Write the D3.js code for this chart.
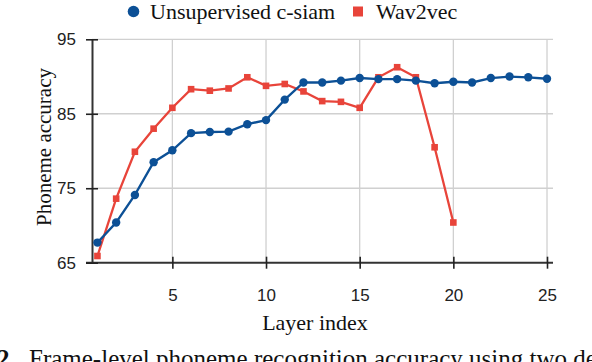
<!DOCTYPE html>
<html>
<head>
<meta charset="utf-8">
<script src="https://cdn.jsdelivr.net/npm/d3@7"></script>
<style>
  body { margin: 0; background: #fff; overflow: hidden; }
  svg { display: block; }
</style>
</head>
<body>
<svg id="chart" width="592" height="362"></svg>
<script>
// layer indices and accuracies
const layersCsiam = d3.range(1, 26);
const accCsiam = [67.7, 70.4, 74.1, 78.5, 80.1, 82.4, 82.55, 82.6, 83.6, 84.15,
                  86.9, 89.2, 89.2, 89.45, 89.8, 89.65, 89.65, 89.45, 89.1, 89.3,
                  89.2, 89.8, 90.0, 89.9, 89.7];
const layersW2v = d3.range(1, 21);
const accW2v = [65.9, 73.6, 79.9, 83.0, 85.8, 88.3, 88.1, 88.4, 89.9, 88.75,
                89.0, 88.0, 86.7, 86.6, 85.8, 89.9, 91.25, 89.9, 80.5, 70.4];
const xTicks = [5, 10, 15, 20, 25];
const yTicks = [65, 75, 85, 95];
const seriesNames = ["Unsupervised c-siam", "Wav2vec"];

const blue = "#0c5096", red = "#e8443a";
const serif = "'Liberation Serif', 'Times New Roman', serif";
const sans = "'Liberation Sans', Arial, sans-serif";

const svg = d3.select("#chart");
const plotL = 92, plotR = 553, plotT = 39.3, plotB = 262.7;

const x = d3.scaleLinear().domain([0.71, 25.32]).range([plotL, plotR]);
const y = d3.scaleLinear().domain([65, 95]).range([plotB, plotT]);

// grid lines
const grid = svg.append("g");
grid.selectAll("line.v").data(xTicks).enter().append("line")
    .attr("x1", d => x(d)).attr("x2", d => x(d))
    .attr("y1", plotT).attr("y2", plotB)
    .style("stroke", "#d0d0d0").style("stroke-width", 1.3);
grid.selectAll("line.h").data(yTicks.filter(d => d > 65)).enter().append("line")
    .attr("x1", plotL).attr("x2", plotR)
    .attr("y1", d => y(d)).attr("y2", d => y(d))
    .style("stroke", "#d0d0d0").style("stroke-width", 1.3);

// axes
const xAxis = svg.append("g")
    .attr("transform", `translate(0,${plotB})`)
    .call(d3.axisBottom(x).tickValues(xTicks).tickSizeInner(6).tickSizeOuter(0).tickPadding(20));
xAxis.select(".domain").attr("d", `M${plotL - 6},0H${plotR}`);
xAxis.selectAll(".tick line").attr("y1", -6).attr("y2", 6);

const yAxis = svg.append("g")
    .attr("transform", `translate(${plotL},0)`)
    .call(d3.axisLeft(y).tickValues(yTicks).tickSizeInner(6).tickSizeOuter(0).tickPadding(10));
yAxis.selectAll(".tick line").attr("x1", -6).attr("x2", 6);

[xAxis, yAxis].forEach(a => {
  a.select(".domain").style("stroke", "#333").style("stroke-width", 2);
  a.selectAll(".tick line").style("stroke", "#222").style("stroke-width", 1.6);
  a.selectAll(".tick text").style("font-family", sans).style("font-size", "17px").style("fill", "#222");
});

// lines
const lineGen = d3.line().x(d => x(d[0])).y(d => y(d[1]));
const csiam = layersCsiam.map((l, i) => [l, accCsiam[i]]);
const w2v = layersW2v.map((l, i) => [l, accW2v[i]]);

svg.append("path").datum(w2v).attr("d", lineGen)
    .style("fill", "none").style("stroke", red).style("stroke-width", 2.3);
svg.append("g").selectAll("rect").data(w2v).enter().append("rect")
    .attr("x", d => x(d[0]) - 3.3).attr("y", d => y(d[1]) - 3.3)
    .attr("width", 6.6).attr("height", 6.6).style("fill", red);

svg.append("path").datum(csiam).attr("d", lineGen)
    .style("fill", "none").style("stroke", blue).style("stroke-width", 2.3);
svg.append("g").selectAll("circle").data(csiam).enter().append("circle")
    .attr("cx", d => x(d[0])).attr("cy", d => y(d[1])).attr("r", 4.2)
    .style("fill", blue);

// legend
const legend = svg.append("g");
legend.append("circle").attr("cx", 133.5).attr("cy", 11.5).attr("r", 5.8).style("fill", blue);
legend.append("text").attr("x", 150).attr("y", 18.5).text(seriesNames[0])
    .style("font-family", serif).style("font-size", "22px").style("fill", "#111");
legend.append("rect").attr("x", 353).attr("y", 6.5).attr("width", 10).attr("height", 10).style("fill", red);
legend.append("text").attr("x", 376).attr("y", 18.5).text(seriesNames[1])
    .style("font-family", serif).style("font-size", "22px").style("fill", "#111");

// axis titles
svg.append("text").attr("x", 315).attr("y", 330).attr("text-anchor", "middle")
    .text("Layer index").style("font-family", serif).style("font-size", "22px").style("fill", "#111");
svg.append("text").attr("transform", "translate(51,147) rotate(-90)").attr("text-anchor", "middle")
    .text("Phoneme accuracy").style("font-family", serif).style("font-size", "21px").style("fill", "#111");

// caption, cut off by the bottom edge as in the source figure
const cap = svg.append("text").attr("x", -3).attr("y", 366.5)
    .style("font-family", serif).style("font-size", "25px").style("fill", "#111");
cap.append("tspan").style("font-weight", "bold").text("2.");
cap.append("tspan").attr("x", 29).text("Frame-level phoneme recognition accuracy using two de");
</script>
</body>
</html>
